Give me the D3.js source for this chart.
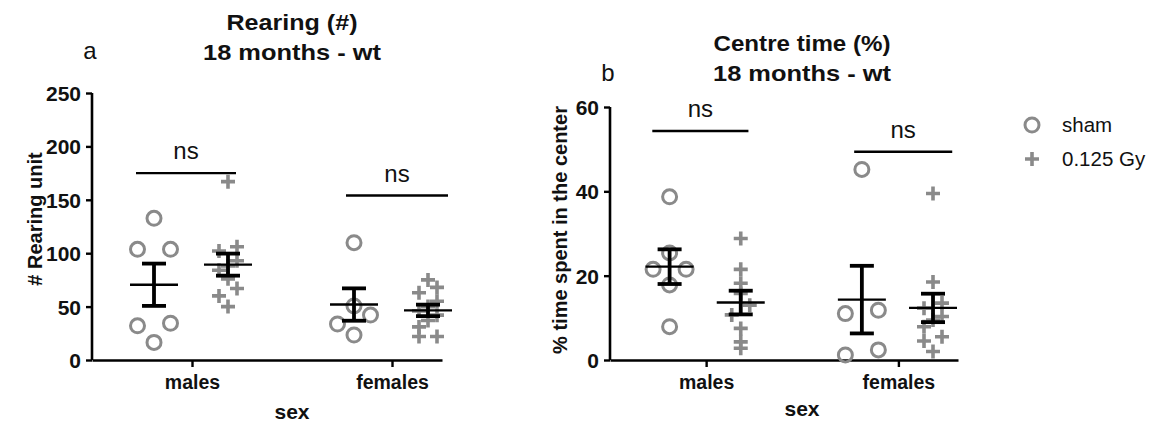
<!DOCTYPE html>
<html>
<head>
<meta charset="utf-8">
<script src="https://cdn.jsdelivr.net/npm/d3@7"></script>
<style>
  body { margin: 0; background: #fff; }
  svg { display: block; font-family: "Liberation Sans", Arial, sans-serif; }
</style>
</head>
<body>
<div id="chart"></div>
<script>
// categories / groups
const categories = ["males", "females"];
const groups = ["sham", "0.125 Gy"];

// Rearing (#) - 18 months - wt
const rearingShamMales = [132.7, 103.6, 103.6, 34.4, 32, 16.5];
const rearingGyMales = [167, 106, 102, 93, 88, 84, 76, 67, 60, 50];
const rearingShamFemales = [109.8, 50.6, 42.1, 33.7, 23.4];
const rearingGyFemales = [75, 68, 63, 55, 50, 46, 42, 37, 31, 22, 22];
const rearingTicks = [0, 50, 100, 150, 200, 250];
const rearingSigHeight = [175, 154];

// Centre time (%) - 18 months - wt
const centreShamMales = [38.7, 25.4, 21.5, 21.5, 17.8, 7.9];
const centreGyMales = [28.8, 21.5, 18.2, 15.8, 13, 10.7, 7.5, 4.3, 2.8];
const centreShamFemales = [45.2, 11.8, 11, 2.4, 1.2];
const centreGyFemales = [39.5, 18.5, 13.5, 12.3, 10.3, 9.5, 7.9, 5.5, 4.5, 2];
const centreTicks = [0, 20, 40, 60];
const centreSigHeight = [54.3, 49.4];

const sigLabels = ["ns", "ns"];

const GREY = "#8a8a8a";
const W = 1157, H = 423;

const svg = d3.select("#chart").append("svg")
    .attr("width", W)
    .attr("height", H);

// spread points of one column into rows like a scatter dot plot
function swarm(values, y, binH, step) {
    const pts = values.map(v => ({ v: v, py: y(v), dx: 0 }));
    const rows = d3.group(pts, p => Math.round(p.py / binH));
    rows.forEach(row => {
        row.sort((a, b) => a.v - b.v);
        const n = row.length;
        row.forEach((p, i) => {
            let k;
            if (n % 2) k = i - (n - 1) / 2;
            else k = i < n / 2 ? i - n / 2 : i - n / 2 + 1;
            p.dx = k * step;
        });
    });
    return pts;
}

function cross(g, x, y, s) {
    g.append("path")
        .attr("d", `M${x - s},${y}H${x + s}M${x},${y - s}V${y + s}`)
        .attr("stroke", GREY)
        .attr("stroke-width", 3.6)
        .attr("fill", "none");
}

function drawPanel(cfg) {
    const g = svg.append("g");

    const y = d3.scaleLinear()
        .domain([0, cfg.yMax])
        .range([360, cfg.top]);

    const x = d3.scaleLinear()
        .domain([-0.5, cfg.xEnd])
        .range([cfg.left, cfg.right]);

    // axes
    const yAxis = d3.axisLeft(y)
        .tickValues(cfg.ticks)
        .tickSize(6)
        .tickSizeOuter(0)
        .tickPadding(5);

    const xAxis = d3.axisBottom(x)
        .tickValues([0, 1])
        .tickFormat(i => categories[i])
        .tickSize(7)
        .tickSizeOuter(0)
        .tickPadding(8);

    const ya = g.append("g")
        .attr("transform", `translate(${cfg.left},0)`)
        .call(yAxis);
    ya.select(".domain").attr("stroke-width", 2.6).attr("d", `M0,${cfg.top}V360`);
    ya.selectAll(".tick line").attr("stroke-width", 2.4);
    ya.selectAll(".tick text")
        .style("font-size", "21px")
        .style("font-weight", "bold")
        .attr("fill", "#111")
        .attr("dy", "0.36em");

    const xa = g.append("g")
        .attr("transform", "translate(0,360)")
        .call(xAxis);
    xa.select(".domain").attr("stroke-width", 2.6);
    xa.selectAll(".tick line").attr("stroke-width", 2.4);
    xa.selectAll(".tick text")
        .style("font-size", "19.5px")
        .style("font-weight", "bold")
        .attr("fill", "#111")
        .attr("dy", "0.71em");

    // points + mean/SEM
    cfg.data.forEach((pair, ci) => {
        pair.forEach((vals, gi) => {
            const cx = x(ci + (gi === 0 ? -0.19 : 0.18));
            const pts = swarm(vals, y, gi === 0 ? 17 : 14, gi === 0 ? 16.5 : 9);
            pts.forEach(p => {
                if (gi === 0) {
                    g.append("circle")
                        .attr("cx", cx + p.dx)
                        .attr("cy", p.py)
                        .attr("r", 7)
                        .attr("fill", "none")
                        .attr("stroke", GREY)
                        .attr("stroke-width", 3);
                } else {
                    cross(g, cx + p.dx, p.py, 7);
                }
            });

            const mean = d3.mean(vals);
            const sem = d3.deviation(vals) / Math.sqrt(vals.length);
            const eb = g.append("g").attr("stroke", "#000");
            eb.append("line")
                .attr("x1", cx - 24).attr("x2", cx + 24)
                .attr("y1", y(mean)).attr("y2", y(mean))
                .attr("stroke-width", 2.4);
            eb.append("line")
                .attr("x1", cx).attr("x2", cx)
                .attr("y1", y(mean + sem)).attr("y2", y(mean - sem))
                .attr("stroke-width", 3.8);
            [mean + sem, mean - sem].forEach(v => {
                eb.append("line")
                    .attr("x1", cx - 12).attr("x2", cx + 12)
                    .attr("y1", y(v)).attr("y2", y(v))
                    .attr("stroke-width", 3.8);
            });
        });

        // significance line
        const sy = y(cfg.sig[ci]);
        const x1 = x(ci - 0.28 + ci * 0.05), x2 = x(ci + 0.22 + ci * 0.06);
        g.append("line")
            .attr("x1", x1).attr("x2", x2)
            .attr("y1", sy).attr("y2", sy)
            .attr("stroke", "#000")
            .attr("stroke-width", 2.4);
        g.append("text")
            .attr("x", (x1 + x2) / 2)
            .attr("y", sy - 14)
            .attr("text-anchor", "middle")
            .style("font-size", "24px")
            .attr("fill", "#111")
            .text(sigLabels[ci]);
    });

    // titles
    cfg.title.forEach((t, i) => {
        g.append("text")
            .attr("x", cfg.titleX)
            .attr("y", cfg.titleY + i * 30)
            .attr("text-anchor", "middle")
            .style("font-size", "22px")
            .style("font-weight", "bold")
            .attr("fill", "#111")
            .attr("textLength", cfg.titleLen[i])
            .attr("lengthAdjust", "spacingAndGlyphs")
            .text(t);
    });

    g.append("text")
        .attr("x", cfg.letterX)
        .attr("y", cfg.letterY)
        .attr("text-anchor", "middle")
        .style("font-size", "24px")
        .attr("fill", "#111")
        .text(cfg.letter);

    // y label
    g.append("text")
        .attr("transform", `translate(${cfg.yLabelX},${cfg.yLabelY}) rotate(-90)`)
        .attr("text-anchor", "middle")
        .style("font-size", "20px")
        .style("font-weight", "bold")
        .attr("fill", "#111")
        .text(cfg.yLabel);

    // x label
    g.append("text")
        .attr("x", cfg.sexX)
        .attr("y", cfg.sexY)
        .attr("text-anchor", "middle")
        .style("font-size", "21px")
        .style("font-weight", "bold")
        .attr("fill", "#111")
        .text("sex");
}

drawPanel({
    left: 92, right: 442, xEnd: 1.25, top: 93, yMax: 250,
    ticks: rearingTicks,
    data: [[rearingShamMales, rearingGyMales], [rearingShamFemales, rearingGyFemales]],
    sig: rearingSigHeight,
    title: ["Rearing (#)", "18 months - wt"], titleX: 292, titleY: 30, titleLen: [131, 178],
    letter: "a", letterX: 90, letterY: 59,
    yLabel: "# Rearing unit", yLabelX: 42, yLabelY: 219,
    sexX: 292, sexY: 419
});

drawPanel({
    left: 610, right: 958, xEnd: 1.31, top: 107, yMax: 60,
    ticks: centreTicks,
    data: [[centreShamMales, centreGyMales], [centreShamFemales, centreGyFemales]],
    sig: centreSigHeight,
    title: ["Centre time (%)", "18 months - wt"], titleX: 802, titleY: 51, titleLen: [177, 178],
    letter: "b", letterX: 608, letterY: 81,
    yLabel: "% time spent in the center", yLabelX: 567, yLabelY: 230,
    sexX: 802, sexY: 416
});

// legend
const legend = svg.append("g").attr("transform", "translate(1032,125)");
groups.forEach((name, i) => {
    const row = legend.append("g").attr("transform", `translate(0,${i * 34})`);
    if (i === 0) {
        row.append("circle")
            .attr("r", 7)
            .attr("fill", "none")
            .attr("stroke", GREY)
            .attr("stroke-width", 3);
    } else {
        cross(row, 0, 0, 7);
    }
    row.append("text")
        .attr("x", 30)
        .attr("dy", "0.36em")
        .style("font-size", "20.5px")
        .attr("fill", "#111")
        .text(name);
});
</script>
</body>
</html>
